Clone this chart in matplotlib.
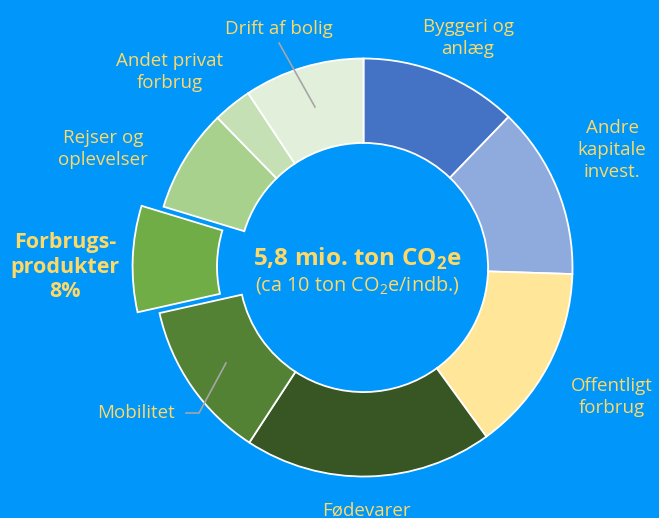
import matplotlib
matplotlib.use('Agg')
import matplotlib.pyplot as plt

# Danish consumption-based CO2e footprint, shares (%)
categories = ['Byggeri og\nanlæg', 'Andre\nkapitale\ninvest.', 'Offentligt\nforbrug',
              'Fødevarer', 'Mobilitet', 'Forbrugs-\nprodukter\n8%',
              'Rejser og\noplevelser', 'Andet privat\nforbrug', 'Drift af bolig']
shares = [12.2, 13.3, 14.5, 19.2, 12.3, 8.2, 8.0, 3.0, 9.3]
colors = ['#4472C4', '#8FAADC', '#FFE699', '#375623', '#548235',
          '#70AD47', '#A9D18E', '#C5E0B4', '#E2EFDA']
explode = [0, 0, 0, 0, 0, 0.105, 0, 0, 0]

BG = '#0096FA'
TXT = '#FFD966'
FONT = ['Open Sans', 'DejaVu Sans']

plt.rcParams['font.family'] = FONT
plt.rcParams['mathtext.fontset'] = 'custom'
plt.rcParams['mathtext.rm'] = 'Open Sans'
plt.rcParams['mathtext.bf'] = 'Open Sans:bold'

fig = plt.figure(figsize=(6.59, 5.18), dpi=100, facecolor=BG)
ax = fig.add_axes([0, 0, 1, 1])
ax.set_facecolor(BG)

ax.pie(shares, colors=colors, explode=explode, startangle=90, counterclock=False,
       radius=1.0, wedgeprops=dict(width=0.404, edgecolor='white', linewidth=1.3))

# map pixel positions of the reference: centre at (363.5, 267.5), radius 209 px
cx, cy, R = 363.5, 267.5, 209.0
ax.set_xlim((0 - cx) / R, (659 - cx) / R)
ax.set_ylim((cy - 518) / R, (cy - 0) / R)
ax.set_aspect('equal')
ax.axis('off')


def px(x, y):
    return (x - cx) / R, (cy - y) / R


# label positions (pixel coords in the reference)
label_pos = [(468, 38), (612, 150), (612, 397), (366, 511), (136, 413),
             (65, 267), (103, 149), (170, 72), (279, 29)]
for i, (lab, (x, y)) in enumerate(zip(categories, label_pos)):
    bold = i == 5
    ax.text(*px(x, y), lab, ha='center', va='center', color=TXT,
            fontsize=15.5 if bold else 13.5, fontweight='bold' if bold else 'normal',
            linespacing=1.22 if bold else 1.27)

# leader lines
lx, ly = zip(px(279, 43), px(315, 107))
ax.plot(lx, ly, color='#A6A6A6', lw=1.2)
lx, ly = zip(px(186, 413), px(199, 413), px(226, 363))
ax.plot(lx, ly, color='#A6A6A6', lw=1.2)

# centre text
ax.text(*px(357.5, 259), r'5,8 mio. ton CO$_\mathbf{2}$e', ha='center', va='center',
        color=TXT, fontsize=17.5, fontweight='bold')
ax.text(*px(357.5, 285), r'(ca 10 ton CO$_\mathrm{2}$e/indb.)', ha='center', va='center',
        color=TXT, fontsize=14.3)

fig.savefig('out.png', dpi=100, facecolor=BG)
